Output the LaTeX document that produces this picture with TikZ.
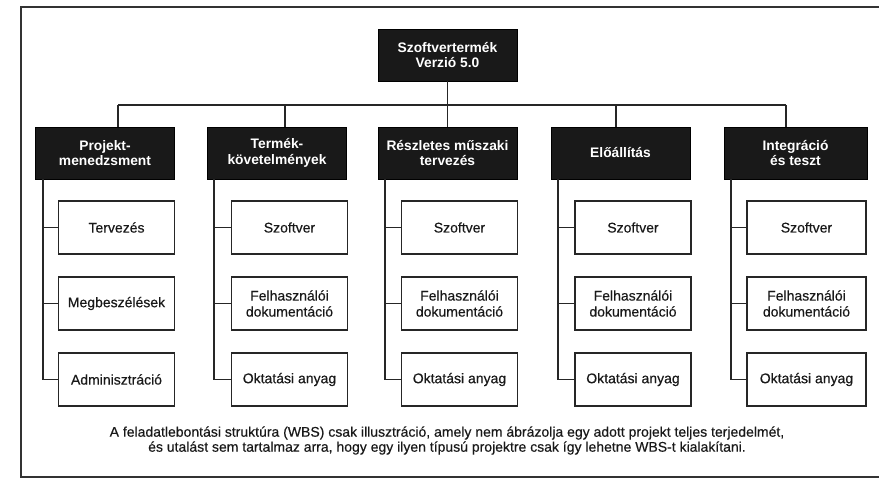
\documentclass[tikz,border=0pt]{standalone}
\usepackage{fontspec}
\setmainfont{Liberation Sans}
\newfontfamily\leaffont[FakeBold=0.35]{Liberation Sans}
\begin{document}
\begin{tikzpicture}[x=1pt,y=-1pt,
  dark/.style={fill=black!90, draw=black, text=white, font=\bfseries\fontsize{13.8}{15.5}\selectfont,
    minimum width=139pt, minimum height=52pt, align=center, inner sep=0pt},
  leaf/.style={draw=black!85, line width=1.3pt, fill=white, text=black!90, minimum width=116pt, minimum height=53pt,
    align=center, font=\leaffont\fontsize{14}{16}\selectfont, inner sep=0pt},
  link/.style={draw=black!85, line width=1.2pt},
  frame/.style={draw=black!80, line width=1.1pt}]
\useasboundingbox (0,0) rectangle (879,478);
\fill[white] (0,0) rectangle (879,478);
\draw[frame] (879,7) -- (21,7) -- (21,477) -- (879,477);

% top
\node[dark] (top) at (447.5,55) {Szoftvertermék\\Verzió 5.0};

% level 2
\node[dark] (pm) at (105,153) {Projekt-\\menedzsment};
\node[dark] (tk) at (277,153) {Termék-\\követelmények};
\node[dark] (rm) at (447.5,153) {Részletes műszaki\\tervezés};
\node[dark] (el) at (620.5,153) {Előállítás};
\node[dark, minimum width=143pt] (it) at (795.5,153) {Integráció\\és teszt};

% bus
\coordinate (busL) at (118,105);
\coordinate (busR) at (786,105);
\draw[link] (busL) -- (busR);
\draw[link] (top.south) -- (rm.north);
\draw[link] (busL) -- (busL |- pm.north);
\draw[link] (285,105) -- ([xshift=8pt]tk.north);
\draw[link] (616,105) -- ([xshift=-4.5pt]el.north);
\draw[link] (busR) -- (busR |- it.north);

% level 3
\node[leaf] (pm1) at (116.5,227.5) {Tervezés};
\node[leaf] (pm2) at (116.5,303.5) {Megbeszélések};
\node[leaf] (pm3) at (116.5,379.5) {Adminisztráció};

\node[leaf] (tk1) at (289.5,227.5) {Szoftver};
\node[leaf] (tk2) at (289.5,303.5) {Felhasználói\\dokumentáció};
\node[leaf] (tk3) at (289.5,379.5) {Oktatási anyag};

\node[leaf] (rm1) at (459.5,227.5) {Szoftver};
\node[leaf] (rm2) at (459.5,303.5) {Felhasználói\\dokumentáció};
\node[leaf] (rm3) at (459.5,379.5) {Oktatási anyag};

\node[leaf] (el1) at (633,227.5) {Szoftver};
\node[leaf] (el2) at (633,303.5) {Felhasználói\\dokumentáció};
\node[leaf] (el3) at (633,379.5) {Oktatási anyag};

\node[leaf, minimum width=119pt] (it1) at (806.5,227.5) {Szoftver};
\node[leaf, minimum width=119pt] (it2) at (806.5,303.5) {Felhasználói\\dokumentáció};
\node[leaf, minimum width=119pt] (it3) at (806.5,379.5) {Oktatási anyag};

% spines
\foreach \p/\sx in {pm/43, tk/214, rm/385, el/558, it/731} {
  \draw[link] (\sx,179) -- (\sx,379.5) -- (\p3.west);
  \draw[link] (\sx,227.5) -- (\p1.west);
  \draw[link] (\sx,303.5) -- (\p2.west);
}

% caption
\node[font=\leaffont\fontsize{14}{15}\selectfont, align=center, text=black!90] (cap) at (447,440.5)
  {A feladatlebontási struktúra (WBS) csak illusztráció, amely nem ábrázolja egy adott projekt teljes terjedelmét,\\
   és utalást sem tartalmaz arra, hogy egy ilyen típusú projektre csak így lehetne WBS-t kialakítani.};
\end{tikzpicture}
\end{document}
